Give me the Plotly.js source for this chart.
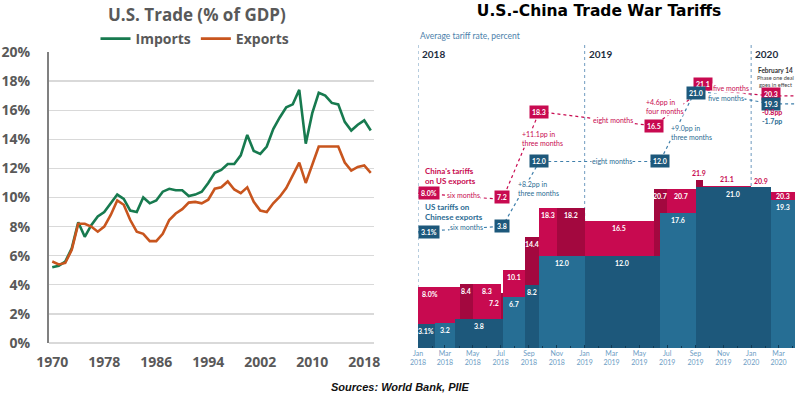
<!DOCTYPE html>
<html><head><meta charset="utf-8">
<script src="https://cdn.plot.ly/plotly-3.0.1.min.js"></script>
<style>html,body{margin:0;padding:0;background:#fff;}#chart{width:800px;height:396px;}</style>
</head><body><div id="chart"></div>
<script>
// ---------- Left chart data: U.S. trade, % of GDP ----------
const years = [];
for (let y = 1970; y <= 2019; y++) years.push(y);
const imports = [5.2,5.3,5.6,6.5,8.3,7.3,8.1,8.7,9.0,9.6,
                 10.2,9.9,9.1,9.0,10.0,9.6,9.8,10.4,10.6,10.5,
                 10.5,10.1,10.2,10.4,11.0,11.7,11.9,12.3,12.3,12.9,
                 14.3,13.2,13.0,13.5,14.7,15.5,16.2,16.4,17.4,13.7,
                 15.8,17.2,17.0,16.5,16.4,15.2,14.6,15.0,15.3,14.6];
const exportsPct = [5.6,5.4,5.5,6.4,8.2,8.2,8.0,7.65,8.0,8.8,
                 9.8,9.5,8.45,7.65,7.5,7.0,7.0,7.5,8.45,8.9,
                 9.2,9.65,9.7,9.6,9.85,10.6,10.7,11.1,10.55,10.3,
                 10.7,9.7,9.1,9.0,9.6,10.05,10.65,11.5,12.4,11.0,
                 12.3,13.5,13.5,13.5,13.5,12.4,11.85,12.1,12.2,11.7];
const leftTickYears = [1970,1978,1986,1994,2002,2010,2018];

// ---------- Right chart data: average tariff rates ----------
const usStart = ['2018-01-01','2018-02-07','2018-03-23','2018-07-06','2018-08-23','2018-09-24','2019-01-01','2019-06-15','2019-09-01','2020-02-14'];
const usRate  = [3.1,3.2,3.8,6.7,8.2,12.0,12.0,17.6,21.0,19.3];
const usLabel = ['3.1%','3.2','3.8','6.7','8.2','12.0','12.0','17.6','21.0','19.3'];
const cnStart = ['2018-01-01','2018-04-02','2018-05-01','2018-07-01','2018-07-06','2018-08-23','2018-09-24','2018-11-01','2019-01-01','2019-06-01','2019-07-01','2019-09-01','2019-09-17','2020-01-01','2020-02-14'];
const cnRate  = [8.0,8.4,8.3,7.2,10.1,14.4,18.3,18.2,16.5,20.7,20.7,21.9,21.1,20.9,20.3];
const cnLabel = ['8.0%','8.4','8.3','7.2','10.1','14.4','18.3','18.2','16.5','20.7','20.7','21.9','21.1','20.9','20.3'];
const periodEnd = '2020-04-06';

// milestones (upper summary diagram)
const cnMileDate = ['2018-01-01','2018-07-05','2018-09-24','2019-06-01','2019-09-17','2020-02-14'];
const cnMileVal  = [8.0,7.2,18.3,16.5,21.1,20.3];
const usMileDate = ['2018-01-01','2018-07-05','2018-09-24','2019-06-15','2019-09-01','2020-02-14'];
const usMileVal  = [3.1,3.8,12.0,12.0,21.0,19.3];
const cnSpanText = ['six months','+11.1pp in<br>three months','eight months','+4.6pp in<br>four months','five months'];
const usSpanText = ['six months','+8.2pp in<br>three months','eight months','+9.0pp in<br>three months','five months'];
const yearMarks = ['2018','2019','2020'];

// ---------- styles ----------
const W = 800, H = 396;
const px = x => x / W, py = y => 1 - y / H;
const GREY = '#595959';
const GREEN = '#177a4f', ORANGE = '#c8551e';
const RED = '#c80a50', RED_D = '#a3083f';
const BLUE = '#1d587b', BLUE_L = '#266e94';
const BLUE_TXT = '#2b6c93';
const RF = 'Lato, "Open Sans", sans-serif';
const LF = '"Open Sans", sans-serif';

function durations(starts, end) {
  return starts.map((s, i) => Date.parse(i < starts.length - 1 ? starts[i + 1] : end) - Date.parse(s));
}
function mid(a, b) { return (Date.parse(a) + Date.parse(b)) / 2; }
const cnDur = durations(cnStart, periodEnd);
const usDur = durations(usStart, periodEnd);
const cnEnds = cnStart.map((s, i) => i < cnStart.length - 1 ? cnStart[i + 1] : periodEnd);
const usEnds = usStart.map((s, i) => i < usStart.length - 1 ? usStart[i + 1] : periodEnd);

const traces = [
  {type:'scatter', mode:'lines', x:years, y:imports, name:'Imports', xaxis:'x', yaxis:'y',
   line:{color:GREEN, width:2.6}, hoverinfo:'skip'},
  {type:'scatter', mode:'lines', x:years, y:exportsPct, name:'Exports', xaxis:'x', yaxis:'y',
   line:{color:ORANGE, width:2.6}, hoverinfo:'skip'},
  {type:'bar', x:cnStart, y:cnRate, width:cnDur, offset:0, xaxis:'x2', yaxis:'y2', showlegend:false,
   marker:{color:cnRate.map((v,i)=> i%2 ? RED_D : RED), line:{width:0}}, hoverinfo:'skip'},
  {type:'bar', x:usStart, y:usRate, width:usDur, offset:0, xaxis:'x2', yaxis:'y2', showlegend:false,
   marker:{color:usRate.map((v,i)=> i%2 ? BLUE_L : BLUE), line:{width:0}}, hoverinfo:'skip'},
  {type:'scatter', mode:'lines', x:cnMileDate.concat([periodEnd]), y:cnMileVal.concat([cnMileVal[cnMileVal.length-1]]),
   xaxis:'x2', yaxis:'y3', showlegend:false, line:{color:RED, width:1.2, dash:'dot'}, hoverinfo:'skip', cliponaxis:false},
  {type:'scatter', mode:'lines', x:usMileDate.concat([periodEnd]), y:usMileVal.concat([usMileVal[usMileVal.length-1]]),
   xaxis:'x2', yaxis:'y3', showlegend:false, line:{color:'#3f7fab', width:1.2, dash:'dot'}, hoverinfo:'skip', cliponaxis:false}
];

const ann = [];
// left title
ann.push({xref:'paper', yref:'paper', x:px(197), y:py(14), text:'U.S. Trade (% of GDP)', showarrow:false,
  font:{family:LF, size:17, color:GREY, weight:'bold'}, xanchor:'center', yanchor:'middle'});
// source
ann.push({xref:'paper', yref:'paper', x:px(400), y:py(387), text:'<b><i>Sources: World Bank, PIIE</i></b>', showarrow:false,
  font:{family:'"Liberation Sans", Arial, sans-serif', size:11, color:'#111'}, xanchor:'center', yanchor:'middle'});
// right subtitle
ann.push({xref:'paper', yref:'paper', x:px(418), y:py(36), text:'Average tariff rate, percent', showarrow:false,
  font:{family:RF, size:8.5, color:'#4d7fab'}, xanchor:'left', yanchor:'middle'});
// year marks
yearMarks.forEach(y => ann.push({xref:'x2', yref:'paper', x:y+'-01-01', y:py(54), text:'<b>'+y+'</b>', showarrow:false,
  font:{family:RF, size:10, color:'#1d2d3d'}, xanchor:'left', yanchor:'middle', xshift:2}));

// bar value labels
const cnPlace = ['start','c','c','left','c','c','c','c','c','c','c','above','above','above','band'];
cnRate.forEach((v,i) => {
  const a = {xref:'x2', yref:'y2', y:v, text:'<b>'+cnLabel[i]+'</b>', showarrow:false,
    font:{family:RF, size:7, color:'#fff'}, yanchor:'middle', xanchor:'center', yshift:-7, x:mid(cnStart[i], cnEnds[i])};
  const p = cnPlace[i];
  if (p==='start') { a.x = cnStart[i]; a.xanchor='left'; a.xshift=2; }
  if (p==='left') { a.x = cnStart[i]; a.xanchor='right'; a.yshift=-10; }
  if (p==='above') { a.yshift = 7; a.font = {family:RF, size:7, color:RED}; }
  if (p==='band') { a.yshift = -3.5; }
  ann.push(a);
});
usRate.forEach((v,i) => {
  ann.push({xref:'x2', yref:'y2', y:v, x:mid(usStart[i], usEnds[i]), text:'<b>'+usLabel[i]+'</b>', showarrow:false,
    font:{family:RF, size:7, color:'#fff'}, yanchor:'middle', xanchor:'center', yshift:-7});
});

// milestone boxes
const cnBoxShift = [0,2,0,0,5.5,2];
const usBoxShift = [0,0,0,0,-2.5,0];
function boxes(dates, vals, color, shifts) {
  dates.forEach((d,i) => ann.push({xref:'x2', yref:'y3', x:d, y:vals[i], text:'<b>'+(i===0? vals[i].toFixed(1)+'%' : vals[i].toFixed(1))+'</b>',
    showarrow:false, bgcolor:color, borderpad:2, font:{family:RF, size:7, color:'#fff'},
    xanchor: i===0 ? 'left' : 'center', yanchor:'middle', yshift:shifts[i]}));
}
boxes(cnMileDate, cnMileVal, RED, cnBoxShift);
boxes(usMileDate, usMileVal, BLUE, usBoxShift);

// span labels on connector lines
const cnSpanShift = [[3,1,'center'],[0,17,'left'],[17,-1,'center'],[-14,1,'center'],[-6,5,'center']];
const usSpanShift = [[6,2,'center'],[-4,5,'left'],[12,0,'center'],[-8,-7,'left'],[-7,-0.5,'center']];
function spans(dates, vals, texts, color, shifts) {
  texts.forEach((t,i) => ann.push({xref:'x2', yref:'y3', x:mid(dates[i], dates[i+1]), y:(vals[i]+vals[i+1])/2,
    text:t, showarrow:false, bgcolor:'#fff', borderpad:0, align:'left',
    font:{family:RF, size:7, color:color}, xanchor:shifts[i][2], yanchor:'middle', xshift:shifts[i][0], yshift:shifts[i][1]}));
}
spans(cnMileDate, cnMileVal, cnSpanText, RED, cnSpanShift);
spans(usMileDate, usMileVal, usSpanText, BLUE_TXT, usSpanShift);

// series names
ann.push({xref:'paper', yref:'paper', x:px(423), y:py(176), text:"<b>China's tariffs<br>on US exports</b>", showarrow:false,
  align:'left', font:{family:RF, size:8, color:RED}, xanchor:'left', yanchor:'middle'});
ann.push({xref:'paper', yref:'paper', x:px(423), y:py(212), text:'<b>US tariffs on<br>Chinese exports</b>', showarrow:false,
  align:'left', font:{family:RF, size:8, color:BLUE_TXT}, xanchor:'left', yanchor:'middle'});
// phase one deal note
ann.push({xref:'paper', yref:'paper', x:px(775), y:py(70), text:'<b>February 14</b>', showarrow:false,
  font:{family:RF, size:6.5, color:'#333'}, xanchor:'center', yanchor:'middle'});
ann.push({xref:'paper', yref:'paper', x:px(775), y:py(81), text:'Phase one deal<br>goes in effect', showarrow:false,
  font:{family:RF, size:5.6, color:'#444'}, xanchor:'center', yanchor:'middle'});
ann.push({xref:'paper', yref:'paper', x:px(772), y:py(112), text:'<b>-0.8pp</b>', showarrow:false,
  font:{family:RF, size:7, color:RED}, xanchor:'center', yanchor:'middle'});
ann.push({xref:'paper', yref:'paper', x:px(772), y:py(121), text:'<b>-1.7pp</b>', showarrow:false,
  font:{family:RF, size:7, color:BLUE_TXT}, xanchor:'center', yanchor:'middle'});

// year divider lines
const shapes = yearMarks.map(y => ({type:'line', xref:'x2', yref:'paper', x0:y+'-01-01', x1:y+'-01-01',
  y0:py(348), y1:py(44), line:{color:'#86abc9', width:1.2, dash:'dot'}, layer:'below'}));

const layout = {
  width:W, height:H, margin:{l:0,r:0,t:0,b:0}, paper_bgcolor:'#fff', plot_bgcolor:'rgba(0,0,0,0)',
  barmode:'overlay', bargap:0,
  title:{text:'U.S.-China Trade War Tariffs', x:px(599), xanchor:'center', y:py(11), yanchor:'middle',
    font:{family:'"DejaVu Sans", sans-serif', size:15.5, color:'#000', weight:'bold'}},
  showlegend:true,
  legend:{orientation:'h', x:px(195), xanchor:'center', y:py(39), yanchor:'middle', itemwidth:30,
    font:{family:LF, size:14, color:GREY, weight:'bold'}, bgcolor:'rgba(0,0,0,0)'},
  xaxis:{domain:[px(49), px(374)], range:[1969.5, 2019.5], tickvals:leftTickYears, showgrid:false, zeroline:false,
    showline:false, ticks:'', ticklabelstandoff:9, tickfont:{family:LF, size:14, color:GREY, weight:'bold'}, anchor:'y', fixedrange:true},
  yaxis:{domain:[py(343), py(52)], range:[0,20], dtick:2, ticksuffix:'%', gridcolor:'#d9d9d9', gridwidth:1.3,
    zeroline:true, zerolinecolor:'#d9d9d9', zerolinewidth:1.3, showline:true, linecolor:'#808080', linewidth:2,
    ticks:'', ticklabelstandoff:14, tickfont:{family:LF, size:14, color:GREY, weight:'bold'}, anchor:'x', fixedrange:true},
  xaxis2:{domain:[px(418), px(795)], range:['2018-01-01', periodEnd], type:'date', tick0:'2018-01-01', dtick:'M2',
    tickformat:'%b<br>%Y', showgrid:false, zeroline:false, showline:false, ticks:'inside', ticklen:3, tickcolor:'#0e3a55',
    minor:{dtick:'M1', ticks:'inside', ticklen:2, tickcolor:'#0e3a55', showgrid:false},
    tickfont:{family:RF, size:7, color:'#6c9cc4'}, anchor:'y2', fixedrange:true},
  yaxis2:{domain:[py(348), py(41)], range:[0,40], visible:false, anchor:'x2', fixedrange:true},
  yaxis3:{overlaying:'y2', range:[-11.61, 27.25], visible:false, anchor:'x2', fixedrange:true},
  annotations:ann, shapes:shapes
};
Plotly.newPlot('chart', traces, layout, {displayModeBar:false, staticPlot:true});
</script></body></html>
